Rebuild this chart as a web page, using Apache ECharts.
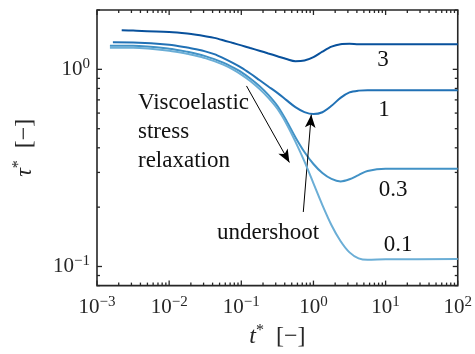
<!DOCTYPE html>
<html>
<head>
<meta charset="utf-8">
<script src="https://cdn.jsdelivr.net/npm/echarts@6/dist/echarts.min.js"></script>
<style>
  html, body { margin: 0; padding: 0; background: #fff; }
  #chart { width: 475px; height: 354px; }
</style>
</head>
<body>
<div id="chart"></div>
<script>
// t* sample points shared by all curves (after each curve's own start)
const tGrid = [0.00316, 0.01, 0.0178, 0.0237, 0.0316, 0.0422, 0.0562, 0.075, 0.1, 0.133, 0.178, 0.237, 0.316,
               0.422, 0.562, 0.75, 1, 1.33, 1.78, 2.37, 3.16, 4.22, 5.62, 10, 100];

const t3   = [0.0022].concat(tGrid);
const tau3 = [1.578, 1.573, 1.545, 1.519, 1.499, 1.473, 1.444, 1.405, 1.363, 1.323, 1.282, 1.243, 1.204, 1.166,
              1.128, 1.099, 1.108, 1.153, 1.229, 1.303, 1.341, 1.347, 1.341, 1.341, 1.341, 1.341];

const t1   = [0.00166].concat(tGrid);
const tau1 = [1.373, 1.370, 1.334, 1.291, 1.264, 1.234, 1.194, 1.140, 1.082, 1.021, 0.953, 0.883, 0.819, 0.760,
              0.698, 0.643, 0.607, 0.593, 0.606, 0.653, 0.717, 0.764, 0.780, 0.784, 0.784, 0.784];

const t03   = [0.00151].concat(tGrid);
const tau03 = [1.318, 1.317, 1.273, 1.229, 1.200, 1.167, 1.127, 1.082, 1.027, 0.969, 0.899, 0.824, 0.742, 0.653,
               0.549, 0.453, 0.381, 0.331, 0.298, 0.278, 0.270, 0.277, 0.291, 0.305, 0.313, 0.313];

const t01   = [0.00151].concat(tGrid);
const tau01 = [1.288, 1.286, 1.244, 1.201, 1.172, 1.140, 1.101, 1.057, 1.003, 0.941, 0.873, 0.796, 0.717, 0.631,
               0.530, 0.430, 0.341, 0.264, 0.205, 0.162, 0.1347, 0.1179, 0.1100, 0.1081, 0.1087, 0.109];

const curveNames = ['3', '1', '0.3', '0.1'];
const curveColors = ['#08519c', '#2171b5', '#4292c6', '#6baed6'];

// axis ranges and ticks
const xMin = 0.001, xMax = 100;
const yMin = 0.08, yMax = 2;
const xMajor = [0.001, 0.01, 0.1, 1, 10, 100];
const yMajor = [0.1, 1];
const yMinorExtra = [0.08, 0.09, 2];

// annotation arrows [start, end] in data coords
const arrowRelax = [[0.118, 0.824], [0.464, 0.337]];
const arrowUnder = [[0.723, 0.189], [0.933, 0.589]];

const serif = '"Liberation Serif", "Times New Roman", serif';
const textColor = '#262626';

function pairs(xs, ys) { return xs.map((x, i) => [x, ys[i]]); }

// minor ticks 2..9 per decade
let xMinor = [];
for (let d = -3; d < 2; d++) {
    for (let m = 2; m <= 9; m++) xMinor.push(m * Math.pow(10, d));
}
let yMinor = [0.2, 0.3, 0.4, 0.5, 0.6, 0.7, 0.8, 0.9].concat(yMinorExtra);

const xTickData = xMajor.map(v => [v, yMin, 5]).concat(xMinor.map(v => [v, yMin, 3]));
const yTickData = yMajor.map(v => [xMin, v, 5]).concat(yMinor.map(v => [xMin, v, 3]));

function isDecade(v) {
    let l = Math.log10(v);
    return Math.abs(l - Math.round(l)) < 1e-6;
}
function powLabel(v) {
    if (!isDecade(v)) return '';
    let e = Math.round(Math.log10(v));
    let s = e < 0 ? '\u2212' + (-e) : '' + e;
    return '{b|10}{s|' + s + '}';
}
const labelRich = {
    b: { fontSize: 21, fontFamily: serif, color: textColor, lineHeight: 26 },
    s: { fontSize: 15, fontFamily: serif, color: textColor, lineHeight: 10, verticalAlign: 'top' }
};
const nameRich = {
    i: { fontSize: 24, fontFamily: serif, fontStyle: 'italic', color: textColor, lineHeight: 28 },
    s: { fontSize: 16, fontFamily: serif, color: textColor, lineHeight: 10, verticalAlign: 'top' },
    n: { fontSize: 24, fontFamily: serif, color: textColor, lineHeight: 28 }
};

let myChart = echarts.init(document.getElementById('chart'));

let series = [
    [t3, tau3], [t1, tau1], [t03, tau03], [t01, tau01]
].map((c, i) => ({
    name: curveNames[i],
    type: 'line',
    data: pairs(c[0], c[1]),
    showSymbol: false,
    smooth: 0.3,
    lineStyle: { color: curveColors[i], width: 2 },
    z: 2 + i
}));

series[0].markLine = {
    silent: true,
    symbol: ['none', 'arrow'],
    symbolSize: [8, 13],
    label: { show: false },
    lineStyle: { color: '#000', width: 1, type: 'solid' },
    data: [
        [{ coord: arrowRelax[0] }, { coord: arrowRelax[1] }],
        [{ coord: arrowUnder[0] }, { coord: arrowUnder[1] }]
    ]
};

series.push({
    type: 'custom',
    silent: true,
    z: 10,
    encode: { x: 0, y: 1 },
    data: xTickData,
    renderItem: function (params, api) {
        let t = api.value(0), len = api.value(2);
        let pb = api.coord([t, yMin]);
        let pt = api.coord([t, yMax]);
        let st = { stroke: textColor, lineWidth: 1.3 };
        return { type: 'group', children: [
            { type: 'line', shape: { x1: pb[0], y1: pb[1], x2: pb[0], y2: pb[1] - len }, style: st },
            { type: 'line', shape: { x1: pt[0], y1: pt[1], x2: pt[0], y2: pt[1] + len }, style: st }
        ]};
    }
});
series.push({
    type: 'custom',
    silent: true,
    z: 10,
    encode: { x: 0, y: 1 },
    data: yTickData,
    renderItem: function (params, api) {
        let v = api.value(1), len = api.value(2);
        let pl = api.coord([xMin, v]);
        let pr = api.coord([xMax, v]);
        let st = { stroke: textColor, lineWidth: 1.3 };
        return { type: 'group', children: [
            { type: 'line', shape: { x1: pl[0], y1: pl[1], x2: pl[0] + len, y2: pl[1] }, style: st },
            { type: 'line', shape: { x1: pr[0], y1: pr[1], x2: pr[0] - len, y2: pr[1] }, style: st }
        ]};
    }
});

const annFont = '23px ' + serif;
function annText(x, y, txt, align) {
    return {
        type: 'text', x: x, y: y, silent: true, z: 20,
        style: { text: txt, font: annFont, fill: '#111', align: align || 'center', verticalAlign: 'middle', lineHeight: 29 }
    };
}

let optionLine = {
    animation: false,
    backgroundColor: '#fff',
    grid: {
        left: 97, top: 10, right: 16, bottom: 68,
        show: true, borderColor: textColor, borderWidth: 1.6, backgroundColor: 'transparent'
    },
    xAxis: {
        type: 'log', min: xMin, max: xMax, logBase: 10,
        axisLine: { show: false }, axisTick: { show: false }, splitLine: { show: false },
        axisLabel: { margin: 9, formatter: powLabel, rich: labelRich, showMinLabel: true, showMaxLabel: true },
        name: '{i|t}{s|*}{n|  [\u2212]}', nameLocation: 'middle', nameGap: 32,
        nameTextStyle: { rich: nameRich }
    },
    yAxis: {
        type: 'log', min: yMin, max: yMax, logBase: 10,
        axisLine: { show: false }, axisTick: { show: false }, splitLine: { show: false },
        axisLabel: { margin: 7, formatter: powLabel, rich: labelRich },
        name: '{i|\u03c4}{s|*}{n|  [\u2212]}', nameLocation: 'middle', nameGap: 58, nameRotate: 90,
        nameTextStyle: { rich: nameRich }
    },
    graphic: [
        annText(138, 132, 'Viscoelastic\nstress\nrelaxation', 'left'),
        annText(268, 233, 'undershoot'),
        annText(383, 60, '3'),
        annText(384, 110, '1'),
        annText(393, 190, '0.3'),
        annText(398, 245, '0.1')
    ],
    series: series
};
myChart.setOption(optionLine);
</script>
</body>
</html>
